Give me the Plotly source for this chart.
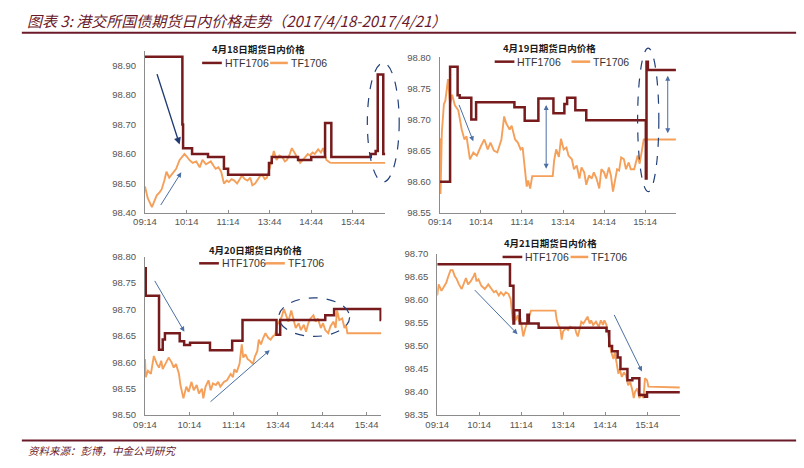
import plotly.graph_objects as go

W, H = 804, 468

# ---------------- data ----------------
tick_vals = [0, 60, 120, 180, 240, 300]
ticks_a = ["09:14", "10:14", "11:14", "13:44", "14:44", "15:44"]
ticks_b = ["09:14", "10:14", "11:14", "13:14", "14:14", "15:14"]

titles = ["4月18日期货日内价格", "4月19日期货日内价格", "4月20日期货日内价格", "4月21日期货日内价格"]
series_names = ["HTF1706", "TF1706"]

# 4/18
htf1_x = [0, 54, 55, 68, 91, 114, 120, 179, 183, 221, 240, 260, 269, 326, 333, 336, 344, 347]
htf1_y = [98.93, 98.70, 98.62, 98.60, 98.59, 98.55, 98.53, 98.57, 98.59, 98.58, 98.59, 98.705,
          98.59, 98.60, 98.61, 98.87, 98.60, 98.60]
tf1_x = [0, 4, 10, 14, 17, 21, 24, 28, 31, 35, 38, 42, 45, 50, 54, 57, 61, 64, 69, 74, 79, 83, 88,
         92, 95, 99, 102, 106, 110, 114, 118, 121, 125, 129, 133, 137, 140, 144, 148, 152, 155, 159,
         162, 166, 169, 173, 176, 181, 186, 190, 194, 198, 202, 205, 209, 212, 217, 220, 224, 228,
         231, 235, 238, 242, 245, 250, 254, 257, 262, 267, 271, 347]
tf1_y = [98.49, 98.45, 98.42, 98.44, 98.46, 98.47, 98.48, 98.51, 98.54, 98.52, 98.53, 98.54, 98.55,
         98.58, 98.59, 98.60, 98.59, 98.58, 98.57, 98.575, 98.555, 98.58, 98.565, 98.57, 98.575,
         98.56, 98.55, 98.555, 98.54, 98.50, 98.51, 98.505, 98.515, 98.51, 98.50, 98.515, 98.527,
         98.515, 98.51, 98.52, 98.494, 98.50, 98.51, 98.525, 98.53, 98.515, 98.52, 98.56, 98.61,
         98.58, 98.595, 98.59, 98.575, 98.58, 98.60, 98.62, 98.60, 98.585, 98.57, 98.58, 98.59,
         98.60, 98.595, 98.605, 98.60, 98.616, 98.605, 98.62, 98.58, 98.571, 98.57, 98.57]

# 4/19
htf2_x = [0, 15, 26, 29, 46, 53, 109, 124, 144, 166, 182, 186, 198, 214, 301, 302, 304, 345]
htf2_y = [98.60, 98.785, 98.739, 98.735, 98.70, 98.728, 98.72, 98.698, 98.734, 98.71, 98.725,
          98.735, 98.715, 98.699, 98.605, 98.793, 98.78, 98.78]
tf2_x = [0, 1, 3, 6, 8, 12, 15, 18, 22, 27, 32, 36, 39, 44, 49, 54, 60, 65, 70, 74, 79, 84, 90, 94,
         97, 102, 105, 110, 114, 118, 121, 124, 127, 129, 132, 135, 165, 167, 170, 174, 177, 181,
         185, 188, 193, 196, 200, 204, 207, 211, 214, 218, 222, 225, 229, 233, 236, 240, 243, 247,
         250, 253, 256, 259, 262, 265, 269, 272, 276, 279, 284, 289, 292, 295, 298, 345]
tf2_y = [98.67, 98.58, 98.68, 98.725, 98.73, 98.765, 98.725, 98.74, 98.723, 98.715, 98.684, 98.668,
         98.673, 98.636, 98.647, 98.642, 98.657, 98.668, 98.652, 98.663, 98.65, 98.647, 98.668,
         98.705, 98.694, 98.684, 98.69, 98.668, 98.663, 98.652, 98.655, 98.62, 98.592, 98.602,
         98.589, 98.609, 98.609, 98.634, 98.652, 98.64, 98.669, 98.652, 98.655, 98.642, 98.636,
         98.62, 98.626, 98.605, 98.623, 98.615, 98.595, 98.61, 98.605, 98.615, 98.605, 98.589,
         98.62, 98.615, 98.605, 98.623, 98.61, 98.584, 98.605, 98.62, 98.618, 98.639, 98.636,
         98.62, 98.631, 98.62, 98.62, 98.642, 98.629, 98.647, 98.668, 98.668]

# 4/20
htf3_x = [0, 1, 19, 24, 27, 47, 53, 61, 88, 118, 132, 178, 183, 244, 256, 319, 320]
htf3_y = [98.778, 98.726, 98.624, 98.643, 98.655, 98.64, 98.633, 98.637, 98.623, 98.641, 98.68,
          98.652, 98.68, 98.689, 98.701, 98.68, 98.68]
tf3_x = [0, 1, 4, 8, 12, 16, 19, 22, 24, 28, 32, 36, 39, 42, 46, 48, 50, 52, 56, 59, 63, 66, 70, 73,
         77, 79, 82, 86, 89, 92, 96, 99, 102, 107, 111, 116, 119, 121, 124, 128, 131, 133, 136, 139,
         142, 146, 149, 152, 154, 157, 160, 163, 167, 170, 173, 176, 179, 182, 185, 188, 191, 194,
         198, 201, 204, 208, 211, 215, 218, 221, 224, 228, 231, 234, 238, 241, 244, 248, 251, 255,
         258, 260, 263, 267, 270, 272, 274, 320]
tf3_y = [98.606, 98.572, 98.584, 98.578, 98.612, 98.597, 98.59, 98.603, 98.587, 98.597, 98.609,
         98.60, 98.59, 98.597, 98.578, 98.557, 98.547, 98.532, 98.554, 98.544, 98.563, 98.547,
         98.557, 98.541, 98.55, 98.532, 98.554, 98.566, 98.547, 98.56, 98.557, 98.563, 98.554,
         98.563, 98.566, 98.578, 98.572, 98.587, 98.581, 98.597, 98.634, 98.609, 98.615, 98.606,
         98.603, 98.597, 98.612, 98.621, 98.643, 98.634, 98.646, 98.655, 98.646, 98.643, 98.649,
         98.652, 98.671, 98.68, 98.686, 98.701, 98.689, 98.677, 98.698, 98.683, 98.665, 98.674,
         98.661, 98.671, 98.658, 98.674, 98.683, 98.689, 98.677, 98.683, 98.665, 98.674, 98.661,
         98.655, 98.668, 98.677, 98.665, 98.698, 98.68, 98.683, 98.665, 98.671, 98.655, 98.655]

# 4/21
htf4_x = [0, 104, 109, 110, 118, 129, 131, 145, 242, 246, 250, 258, 262, 272, 279, 289, 297, 300, 347]
htf4_y = [98.678, 98.631, 98.549, 98.578, 98.549, 98.568, 98.549, 98.54, 98.532, 98.50, 98.489,
          98.475, 98.45, 98.426, 98.43, 98.394, 98.39, 98.40, 98.40]
tf4_x = [0, 2, 6, 9, 13, 15, 19, 22, 25, 28, 31, 35, 39, 41, 44, 48, 52, 54, 56, 59, 63, 68, 73, 77,
         81, 84, 88, 91, 95, 98, 102, 105, 108, 110, 112, 115, 117, 119, 123, 126, 129, 132, 134,
         169, 171, 173, 176, 178, 180, 184, 187, 190, 193, 197, 199, 201, 204, 206, 209, 213, 215,
         218, 220, 223, 227, 231, 234, 237, 239, 242, 245, 247, 249, 252, 254, 256, 259, 261, 264,
         267, 270, 273, 276, 279, 281, 283, 286, 289, 292, 295, 297, 300, 302, 347]
tf4_y = [98.61, 98.634, 98.62, 98.627, 98.638, 98.648, 98.665, 98.665, 98.652, 98.645, 98.634,
         98.624, 98.638, 98.648, 98.634, 98.641, 98.652, 98.659, 98.641, 98.645, 98.631, 98.624,
         98.634, 98.624, 98.617, 98.62, 98.61, 98.617, 98.61, 98.617, 98.613, 98.602, 98.556,
         98.574, 98.556, 98.567, 98.553, 98.56, 98.521, 98.539, 98.556, 98.567, 98.577, 98.577,
         98.556, 98.546, 98.539, 98.514, 98.532, 98.539, 98.535, 98.542, 98.54, 98.54, 98.528,
         98.521, 98.539, 98.553, 98.549, 98.56, 98.564, 98.549, 98.556, 98.546, 98.553, 98.542,
         98.556, 98.546, 98.556, 98.546, 98.518, 98.507, 98.486, 98.472, 98.486, 98.468, 98.44,
         98.45, 98.433, 98.443, 98.436, 98.415, 98.422, 98.404, 98.387, 98.401, 98.408, 98.387,
         98.397, 98.387, 98.43, 98.426, 98.412, 98.41]

# ---------------- styling / layout ----------------
HTF_COLOR = "#761A1C"
TF_COLOR = "#F5A05A"
AXIS_COLOR = "#8C8C8C"
TICK_FONT = dict(family="Liberation Sans, Arial, sans-serif", size=9.5, color="#555555")
MAROON = "#6B1A2A"
ARROW_BLUE = "#4A6FA5"
ELLIPSE_BLUE = "#22407A"


def px(x):
    return x / W


def py(y):
    return 1 - y / H


panels = [
    dict(htf=(htf1_x, htf1_y), tf=(tf1_x, tf1_y), ticks=ticks_a,
         xdom=(135, 379), xr=(0, 347), ydom=(212, 45.9), yr=(98.40, 98.95), ydt=0.1,
         title_xy=(250, 44), leg_y=58.3, leg=(193, 213, 214, 262, 280, 281)),
    dict(htf=(htf2_x, htf2_y), tf=(tf2_x, tf2_y), ticks=ticks_b,
         xdom=(434.3, 674), xr=(0, 345), ydom=(211.7, 52.7), yr=(98.55, 98.80), ydt=0.05,
         title_xy=(546, 43), leg_y=57, leg=(490, 510, 511, 568, 587, 588)),
    dict(htf=(htf3_x, htf3_y), tf=(tf3_x, tf3_y), ticks=ticks_a,
         xdom=(135, 375), xr=(0, 320), ydom=(419, 256.7), yr=(98.50, 98.80), ydt=0.05,
         title_xy=(247, 250), leg_y=263.5, leg=(190, 210, 211, 257, 277, 278)),
    dict(htf=(htf4_x, htf4_y), tf=(tf4_x, tf4_y), ticks=ticks_b,
         xdom=(431.7, 678), xr=(0, 347), ydom=(419, 254), yr=(98.35, 98.70), ydt=0.05,
         title_xy=(547, 243), leg_y=257, leg=(498, 518, 519, 567, 585, 586)),
]

fig = go.Figure()
shapes = []
annotations = []

for i, p in enumerate(panels, start=1):
    xa = "x" if i == 1 else f"x{i}"
    ya = "y" if i == 1 else f"y{i}"
    fig.add_trace(go.Scatter(x=p["tf"][0], y=p["tf"][1], mode="lines", name=series_names[1],
                             line=dict(color=TF_COLOR, width=1.9), xaxis=xa, yaxis=ya,
                             showlegend=False, hoverinfo="skip"))
    fig.add_trace(go.Scatter(x=p["htf"][0], y=p["htf"][1], mode="lines", name=series_names[0],
                             line=dict(color=HTF_COLOR, width=2.5, shape="hv"), xaxis=xa, yaxis=ya,
                             showlegend=False, hoverinfo="skip"))
    y0, y1 = p["yr"]
    n = int(round((y1 - y0) / p["ydt"]))
    yt = [round(y0 + k * p["ydt"], 2) for k in range(n + 1) if y0 + k * p["ydt"] <= y1 + 1e-9]
    xkey = "xaxis" if i == 1 else f"xaxis{i}"
    ykey = "yaxis" if i == 1 else f"yaxis{i}"
    fig.update_layout(**{
        xkey: dict(domain=[px(p["xdom"][0]), px(p["xdom"][1])], range=list(p["xr"]), anchor=ya,
                   tickvals=tick_vals, ticktext=p["ticks"], ticks="inside", ticklen=3,
                   tickcolor=AXIS_COLOR, showline=True, linecolor=AXIS_COLOR, linewidth=1,
                   showgrid=False, zeroline=False, tickfont=TICK_FONT, fixedrange=True),
        ykey: dict(domain=[py(p["ydom"][0]), py(p["ydom"][1])], range=list(p["yr"]), anchor=xa,
                   tickvals=yt, tickformat=".2f", ticks="", showline=True, linecolor=AXIS_COLOR,
                   linewidth=1, showgrid=False, zeroline=False, tickfont=TICK_FONT,
                   ticklabelstandoff=6, fixedrange=True),
    })
    # panel title
    annotations.append(dict(text=f"<b>{titles[i-1]}</b>", xref="paper", yref="paper",
                            x=px(p["title_xy"][0]), y=py(p["title_xy"][1]), showarrow=False,
                            xanchor="center", yanchor="middle",
                            font=dict(family="Noto Sans CJK SC", size=9.5, color="#1a1a1a")))
    # legend (drawn)
    l = p["leg"]
    ly = py(p["leg_y"])
    shapes.append(dict(type="line", xref="paper", yref="paper", x0=px(l[0]), x1=px(l[1]),
                       y0=ly, y1=ly, line=dict(color=HTF_COLOR, width=2.5)))
    shapes.append(dict(type="line", xref="paper", yref="paper", x0=px(l[3]), x1=px(l[4]),
                       y0=ly, y1=ly, line=dict(color=TF_COLOR, width=2.5)))
    for tx, name in ((l[2], series_names[0]), (l[5], series_names[1])):
        annotations.append(dict(text=name, xref="paper", yref="paper", x=px(tx), y=ly,
                                showarrow=False, xanchor="left", yanchor="middle",
                                font=dict(family="Liberation Sans, Arial, sans-serif", size=10.5,
                                          color="#333333")))


def ellipse(i, xr, yr, x0, x1, y0, y1):
    xa = "x" if i == 1 else f"x{i}"
    ya = "y" if i == 1 else f"y{i}"
    fx = lambda v: (v - xr[0]) / (xr[1] - xr[0])
    fy = lambda v: (v - yr[0]) / (yr[1] - yr[0])
    shapes.append(dict(type="circle", xref=f"{xa} domain", yref=f"{ya} domain",
                       x0=fx(x0), x1=fx(x1), y0=fy(y0), y1=fy(y1),
                       line=dict(color=ELLIPSE_BLUE, width=1.2, dash="dash")))


def arrow(i, tail, head, color=ARROW_BLUE, width=1, both=False):
    xa = "x" if i == 1 else f"x{i}"
    ya = "y" if i == 1 else f"y{i}"
    annotations.append(dict(text="", x=head[0], y=head[1], ax=tail[0], ay=tail[1],
                            xref=xa, yref=ya, axref=xa, ayref=ya, showarrow=True,
                            arrowhead=2, arrowsize=1.0, arrowwidth=width, arrowcolor=color,
                            startarrowhead=2, startarrowsize=1.0,
                            arrowside="end+start" if both else "end"))


# panel 1 marks
ellipse(1, panels[0]["xr"], panels[0]["yr"], 321, 367, 98.505, 98.909)
arrow(1, (16.7, 98.876), (50, 98.632), color="#1F3B73", width=1.4)
arrow(1, (21.4, 98.422), (52.4, 98.538))
# panel 2 marks
ellipse(2, panels[1]["xr"], panels[1]["yr"], 289, 320, 98.584, 98.815)
arrow(2, (27.3, 98.726), (48.9, 98.665))
arrow(2, (155.4, 98.726), (155.4, 98.621), both=True)
arrow(2, (333, 98.773), (333, 98.678), both=True)
# panel 3 marks
ellipse(3, panels[2]["xr"], panels[2]["yr"], 181, 277, 98.649, 98.722)
arrow(3, (12, 98.757), (53.3, 98.658))
arrow(3, (86.7, 98.523), (168.9, 98.623))
# panel 4 marks
arrow(4, (51.5, 98.625), (114.8, 98.526))
arrow(4, (252, 98.571), (292.7, 98.445))

# main title, rules, source
annotations.append(dict(text="图表 3: 港交所国债期货日内价格走势（2017/4/18-2017/4/21）",
                        xref="paper", yref="paper", x=px(13), y=py(15), showarrow=False,
                        xanchor="left", yanchor="middle",
                        font=dict(family="Noto Sans CJK SC", size=15, color=MAROON, style="italic")))
annotations.append(dict(text="资料来源：彭博，中金公司研究", xref="paper", yref="paper",
                        x=px(14), y=py(455), showarrow=False, xanchor="left", yanchor="middle",
                        font=dict(family="Noto Sans CJK SC", size=10.5, color=MAROON, style="italic")))
shapes.append(dict(type="line", xref="paper", yref="paper", x0=px(10), x1=px(796),
                   y0=py(27.5), y1=py(27.5), line=dict(color=MAROON, width=2)))
shapes.append(dict(type="line", xref="paper", yref="paper", x0=px(10), x1=px(796),
                   y0=py(445), y1=py(445), line=dict(color=MAROON, width=2)))

fig.update_layout(width=W, height=H, margin=dict(l=0, r=0, t=0, b=0),
                  paper_bgcolor="white", plot_bgcolor="white", showlegend=False,
                  shapes=shapes, annotations=annotations)

fig.write_html("out.html", config={"displayModeBar": False})
